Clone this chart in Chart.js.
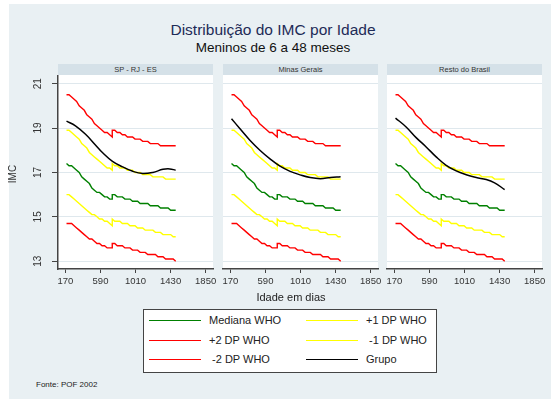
<!DOCTYPE html>
<html>
<head>
<meta charset="utf-8">
<script src="https://cdn.jsdelivr.net/npm/chart.js@4.4.1/dist/chart.umd.min.js"></script>
<style>
  html, body { margin: 0; padding: 0; background: #ffffff; }
  #page { position: relative; width: 552px; height: 401px; overflow: hidden;
          font-family: "Liberation Sans", Arial, sans-serif; }
  #bg { position: absolute; left: 9px; top: 4px; width: 542px; height: 395px; background: #e9f0f3; }
  canvas { position: absolute; }
  .txt { position: absolute; white-space: pre; }
  .strip { position: absolute; top: 64px; width: 155px; height: 11px; background: #d5e1e8;
           font-size: 7.5px; line-height: 11px; text-align: center; color: #333; }
  #legend { position: absolute; left: 143px; top: 309px; width: 292px; height: 62px;
            background: #ffffff; border: 1px solid #444; }
  .lg-line { position: absolute; height: 0; width: 52px; border-top: 1.5px solid; }
  .lg-text { position: absolute; font-size: 11px; line-height: 13px; color: #222; white-space: pre; }
</style>
</head>
<body>
<div id="page">
  <div id="bg"></div>
  <div class="txt" style="left:0;width:546px;top:21px;text-align:center;font-size:15.5px;line-height:18px;color:#1e2b57;">Distribuição do IMC por Idade</div>
  <div class="txt" style="left:0;width:546px;top:40px;text-align:center;font-size:13.5px;line-height:16px;color:#111;">Meninos de 6 a 48 meses</div>

  <div class="strip" style="left:58px;">SP - RJ - ES</div>
  <div class="strip" style="left:223px;">Minas Gerais</div>
  <div class="strip" style="left:387px;">Resto do Brasil</div>

  <canvas id="c1" width="223" height="219" style="left:0px;top:75px;"></canvas>
  <canvas id="c2" width="175" height="219" style="left:213px;top:75px;"></canvas>
  <canvas id="c3" width="175" height="219" style="left:377px;top:75px;"></canvas>

  <div class="txt" style="left:0;width:582px;top:291px;text-align:center;font-size:11px;line-height:13px;color:#222;">Idade em dias</div>

  <div id="legend"></div>

  <div class="txt" style="left:36px;top:380px;font-size:8px;line-height:10px;color:#222;">Fonte: POF 2002</div>
</div>

<script>
// Age in months of each WHO reference point (24 months appears twice:
// recumbent length before, standing height after)
const ageMonths = [6,7,8,9,10,11,12,13,14,15,16,17,18,19,20,21,22,23,24,
                   24,25,26,27,28,29,30,31,32,33,34,35,36,37,38,39,40,41,42,43,44,45,46,47,48,49];

// WHO BMI-for-age reference, boys
const whoPlus2 = [20.5,20.5,20.4,20.3,20.2,20.0,19.9,19.8,19.6,19.5,19.4,19.2,19.1,19.0,18.9,18.8,18.8,18.7,18.6,
                  18.9,18.9,18.8,18.8,18.7,18.7,18.6,18.6,18.6,18.5,18.5,18.5,18.4,18.4,18.4,18.3,18.3,18.3,18.3,18.2,18.2,18.2,18.2,18.2,18.2,18.2];
const whoPlus1 = [18.9,18.9,18.8,18.7,18.6,18.5,18.3,18.2,18.1,17.9,17.8,17.7,17.6,17.5,17.4,17.3,17.2,17.2,17.1,
                  17.4,17.3,17.3,17.2,17.2,17.2,17.1,17.1,17.1,17.0,17.0,17.0,16.9,16.9,16.9,16.9,16.8,16.8,16.8,16.8,16.8,16.7,16.7,16.7,16.7,16.7];
const whoMedian = [17.4,17.3,17.3,17.2,17.1,17.0,16.8,16.7,16.6,16.5,16.3,16.2,16.1,16.1,16.0,15.9,15.9,15.8,15.8,
                   16.0,16.0,15.9,15.9,15.9,15.8,15.8,15.8,15.7,15.7,15.7,15.6,15.6,15.6,15.6,15.5,15.5,15.5,15.5,15.4,15.4,15.4,15.4,15.3,15.3,15.3];
const whoMinus1 = [16.0,16.0,15.9,15.8,15.7,15.6,15.5,15.4,15.3,15.2,15.1,15.1,15.0,14.9,14.9,14.8,14.8,14.7,14.6,
                   14.9,14.8,14.8,14.8,14.7,14.7,14.7,14.6,14.6,14.6,14.5,14.5,14.5,14.4,14.4,14.4,14.4,14.3,14.3,14.3,14.2,14.2,14.2,14.2,14.1,14.1];
const whoMinus2 = [14.7,14.7,14.7,14.6,14.5,14.4,14.3,14.2,14.1,14.0,14.0,13.9,13.8,13.8,13.7,13.7,13.6,13.6,13.6,
                   13.8,13.8,13.7,13.7,13.7,13.6,13.6,13.6,13.5,13.5,13.5,13.4,13.4,13.4,13.3,13.3,13.3,13.3,13.2,13.2,13.2,13.1,13.1,13.1,13.1,13.0];

// Smoothed BMI of the surveyed group, by region (age in days)
const spDays = [183,290,411,532,613,734,855,976,1097,1218,1339,1420,1490];
const spImc  = [19.31,19.10,18.72,18.23,17.90,17.50,17.25,17.05,16.95,17.00,17.14,17.16,17.10];
const mgDays = [183,282,403,523,644,764,885,1006,1126,1247,1367,1490];
const mgImc  = [19.42,18.98,18.45,18.00,17.61,17.28,17.05,16.89,16.77,16.72,16.77,16.81];
const rbDays = [183,310,430,550,670,790,910,1030,1150,1270,1370,1490];
const rbImc  = [19.45,19.05,18.57,18.15,17.70,17.32,17.07,16.90,16.77,16.68,16.53,16.23];

const regions = ['SP - RJ - ES', 'Minas Gerais', 'Resto do Brasil'];
const xTicks = [170, 590, 1010, 1430, 1850];
const yTicks = [13, 15, 17, 19, 21];
const xRange = [81, 1938];
const yRange = [12.65, 21.39];

const legendLabels = ['Mediana WHO', '+1 DP WHO', '+2 DP WHO', ' -1 DP WHO', ' -2 DP WHO', 'Grupo'];

const FONT = '"Liberation Sans", Arial, sans-serif';
const C_GREEN = '#008000', C_RED = '#ff0000', C_YELLOW = '#ffff00', C_BLACK = '#000000';

const ageDays = ageMonths.map(m => Math.round(m * 30.4375));
const pairs = (xs, ys) => xs.map((x, i) => ({ x: x, y: ys[i] }));

function whoSet(label, values, color) {
  return { label, data: pairs(ageDays, values), borderColor: color, borderWidth: 1.4,
           pointRadius: 0, tension: 0, order: 2 };
}

// white plotting region
const plotBg = {
  id: 'plotBg',
  beforeDraw(chart) {
    const { ctx, chartArea: a } = chart;
    ctx.save();
    ctx.fillStyle = '#ffffff';
    ctx.fillRect(a.left, a.top, a.right - a.left, a.bottom - a.top);
    ctx.restore();
  }
};

// rotated y tick labels and axis title for the first panel
const yLabels = {
  id: 'yLabels',
  afterDraw(chart) {
    if (!chart.options.plugins.yLabels || !chart.options.plugins.yLabels.show) return;
    const { ctx, chartArea: a } = chart;
    const ys = chart.scales.y;
    ctx.save();
    ctx.fillStyle = '#333';
    ctx.font = '10px ' + FONT;
    ctx.textAlign = 'center';
    ctx.textBaseline = 'middle';
    ys.ticks.forEach(t => {
      const py = ys.getPixelForValue(t.value);
      ctx.save();
      ctx.translate(38, py);
      ctx.rotate(-Math.PI / 2);
      ctx.fillText(String(t.value), 0, 0);
      ctx.restore();
    });
    ctx.font = '10px ' + FONT;
    ctx.translate(13, (a.top + a.bottom) / 2 + 2);
    ctx.rotate(-Math.PI / 2);
    ctx.fillText('IMC', 0, 0);
    ctx.restore();
  }
};

function makePanel(id, days, imc, first) {
  const datasets = [
    { label: 'Grupo', data: pairs(days, imc), borderColor: C_BLACK, borderWidth: 1.5,
      pointRadius: 0, tension: 0.4, order: 0 },
    whoSet('Mediana WHO', whoMedian, C_GREEN),
    whoSet('+1 DP WHO', whoPlus1, C_YELLOW),
    whoSet('+2 DP WHO', whoPlus2, C_RED),
    whoSet('-1 DP WHO', whoMinus1, C_YELLOW),
    whoSet('-2 DP WHO', whoMinus2, C_RED)
  ];
  return new Chart(document.getElementById(id), {
    type: 'line',
    data: { datasets },
    plugins: [plotBg, yLabels],
    options: {
      responsive: false,
      animation: false,
      devicePixelRatio: 1,
      events: [],
      layout: { padding: { left: first ? 0 : 10, right: 10, top: 0, bottom: 0 } },
      plugins: { legend: { display: false }, tooltip: { enabled: false }, yLabels: { show: first } },
      scales: {
        x: {
          type: 'linear', min: xRange[0], max: xRange[1],
          afterBuildTicks: s => { s.ticks = xTicks.map(v => ({ value: v })); },
          afterFit: s => { s.height = 25; },
          grid: { drawOnChartArea: false, drawTicks: true, tickLength: 4, tickColor: '#444', tickWidth: 1 },
          border: { display: true, color: '#444', width: 1.5 },
          ticks: { color: '#333', font: { size: 9.5, family: FONT }, padding: 3,
                   maxRotation: 0, minRotation: 0, autoSkip: false,
                   callback: v => String(v) }
        },
        y: {
          type: 'linear', min: yRange[0], max: yRange[1],
          afterBuildTicks: s => { s.ticks = yTicks.map(v => ({ value: v })); },
          afterFit: s => { s.width = first ? 58 : 0; },
          grid: { color: '#dfe8ed', lineWidth: 1, drawTicks: first, tickLength: 6,
                  tickColor: '#444', tickWidth: 1 },
          border: { display: first, color: '#444', width: 1.5 },
          ticks: { display: false }
        }
      }
    }
  });
}

makePanel('c1', spDays, spImc, true);
makePanel('c2', mgDays, mgImc, false);
makePanel('c3', rbDays, rbImc, false);

// legend box
const legendItems = [
  { text: legendLabels[0], color: C_GREEN,  col: 0, row: 0 },
  { text: legendLabels[1], color: C_YELLOW, col: 1, row: 0 },
  { text: legendLabels[2], color: C_RED,    col: 0, row: 1 },
  { text: legendLabels[3], color: C_YELLOW, col: 1, row: 1 },
  { text: legendLabels[4], color: C_RED,    col: 0, row: 2 },
  { text: legendLabels[5], color: C_BLACK,  col: 1, row: 2 }
];
const legend = document.getElementById('legend');
legendItems.forEach(it => {
  const cy = 11 + it.row * 19.5;
  const lx = it.col === 0 ? 5 : 162;
  const line = document.createElement('div');
  line.className = 'lg-line';
  line.style.left = lx + 'px';
  line.style.top = (cy - 1) + 'px';
  line.style.borderTopColor = it.color;
  legend.appendChild(line);
  const t = document.createElement('div');
  t.className = 'lg-text';
  t.style.left = (lx + 60) + 'px';
  t.style.top = (cy - 7) + 'px';
  t.textContent = it.text;
  legend.appendChild(t);
});
</script>
</body>
</html>
